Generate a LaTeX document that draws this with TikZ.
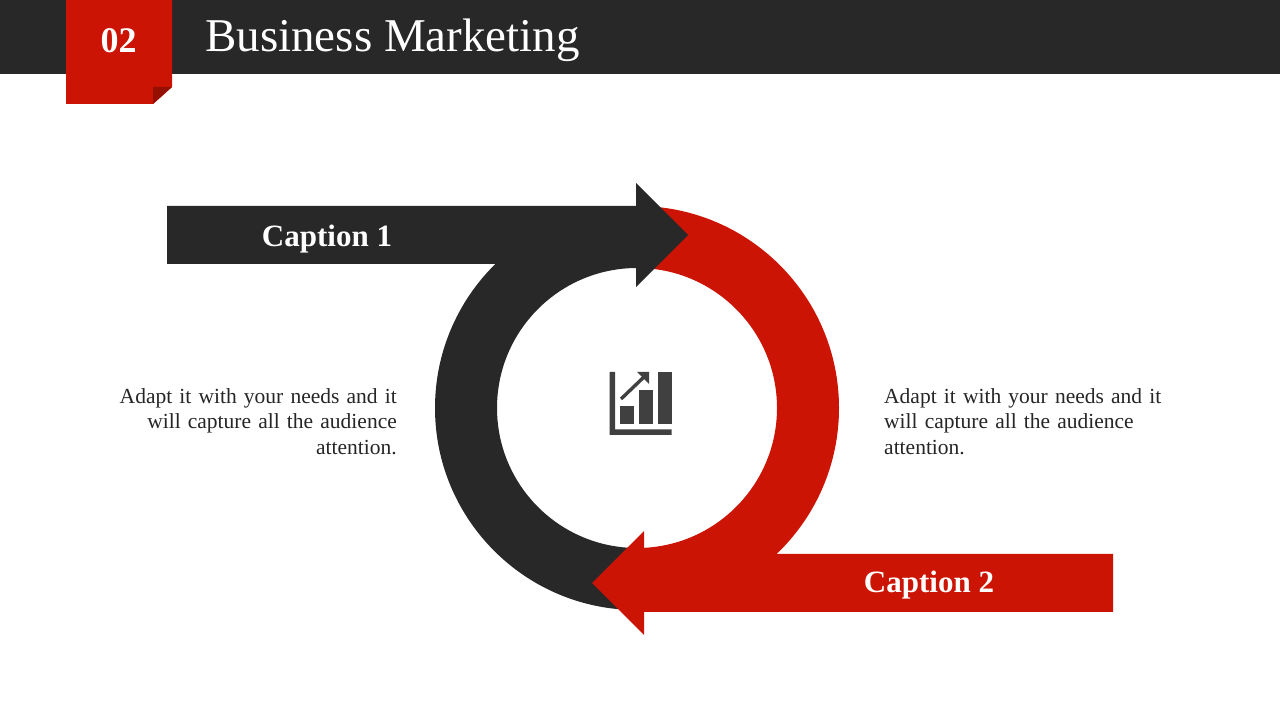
\documentclass[tikz,border=0pt]{standalone}
\usepackage{fontspec}
\setmainfont{Liberation Serif}
\definecolor{barblack}{HTML}{282828}
\definecolor{capred}{HTML}{CC1404}
\definecolor{foldred}{HTML}{960F03}
\definecolor{icongray}{HTML}{404040}
\definecolor{bodytext}{HTML}{262626}
\begin{document}
\begin{tikzpicture}[x=1pt,y=1pt,
    bodynote/.style={text=bodytext,font=\fontsize{21.5}{25.5}\selectfont,inner sep=0pt,text width=285pt},
    capnote/.style={text=white,font=\fontsize{31}{32}\selectfont\bfseries,inner sep=0pt}]
            \def\cx{637} \def\cy{312}
            \def\ro{202} \def\ri{140}
            \useasboundingbox (0,0) rectangle (1280,720);
            \fill[white] (0,0) rectangle (1280,720);
            %\draw[color=gray!50,dashed] (0,0) grid[step=100] (1280,720);
            \fill[barblack] (0,646) rectangle (1280,720);
            \fill[capred] (66,720)--(172,720)--(172,633)--(153,616)--(66,616)--cycle;
            \fill[foldred] (153,633)--(172,633)--(153,616)--cycle;
            \node[text=white,inner sep=0pt,font=\fontsize{36}{40}\selectfont\bfseries] (tabno) at (118.5,679) {02};
            \node[text=white,inner sep=0pt,anchor=base west,font=\fontsize{47}{50}\selectfont] (title) at (205,668) {Business Marketing};
            \fill[barblack] (\cx,\cy+\ro) arc (90:270:\ro)--(\cx,\cy-\ri) arc (270:90:\ri)--cycle;
            \fill[capred] (\cx,\cy+\ro) arc (90:-90:\ro)--(\cx,\cy-\ri) arc (-90:90:\ri)--cycle;
            \fill[barblack] (167,514)--(636,514)--(636,537)--(688,485)--(636,433)--(636,456)--(167,456)--cycle;
            \fill[capred] (1113,166)--(644,166)--(644,189)--(592,137)--(644,85)--(644,108)--(1113,108)--cycle;
            \node[capnote] (capa) at (327,481) {Caption 1};
            \node[capnote] (capb) at (929,135) {Caption 2};
            \node[bodynote,anchor=north east,align=right] (left) at (397,332) {Adapt it with your needs and it\\will capture all the audience\\attention.};
            \node[bodynote,anchor=north west,align=left] (right) at (884,332) {Adapt it with your needs and it\\will capture all the audience\\attention.};
            \fill[icongray] (609.5,348)--(615,348)--(615,290.5)--(671.5,290.5)--(671.5,285)--(609.5,285)--cycle;
            \foreach \x/\h in {620/314,639/330,658/348}
            \fill[icongray] (\x,296)--(\x+14,296)--(\x+14,\h)--(\x,\h)--cycle;
            \draw[icongray,line width=3.4pt] (621,321)--(645,344);
            \fill[icongray] (637,348)--(649,348)--(649,336)--cycle;
        \end{tikzpicture}
\end{document}
